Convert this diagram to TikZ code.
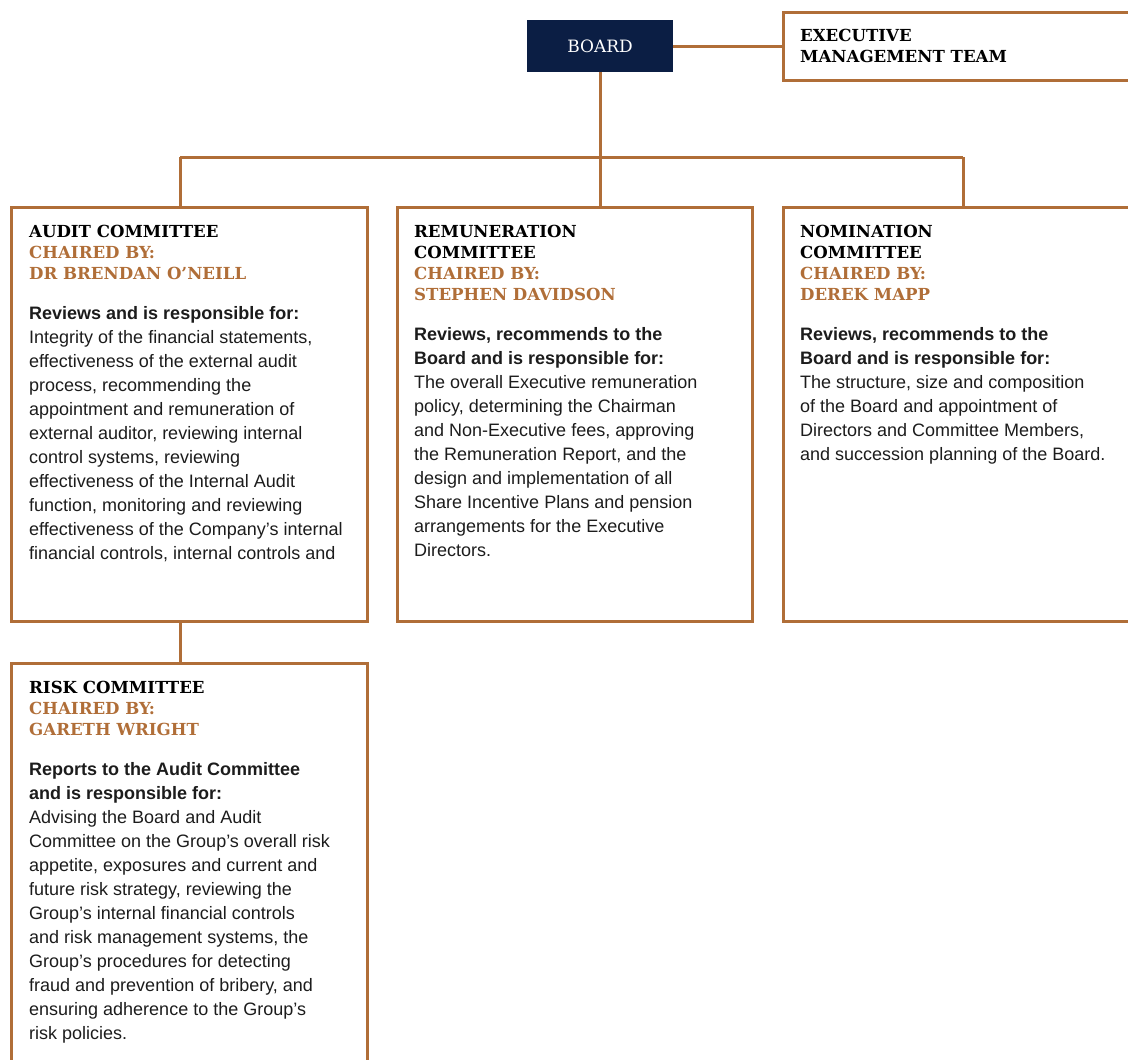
\documentclass[tikz,border=0pt]{standalone}
\usepackage{fontspec}
\setmainfont{Liberation Sans}
\newfontfamily\slabfont{DejaVu Serif}
\usetikzlibrary{positioning}
\definecolor{gold}{HTML}{B06E38}
\definecolor{navy}{HTML}{0B1E44}
\definecolor{ink}{HTML}{1C1C1C}
\newcommand{\chair}[1]{\textcolor{gold}{#1}}
\tikzset{
  link/.style={draw=gold, line width=3pt},
  panel/.style={draw=gold, line width=3pt, anchor=north west, inner sep=0pt,
    outer sep=0pt, minimum width=356pt, minimum height=414pt},
  headtxt/.style={anchor=north west, inner sep=0pt, align=left,
    font=\slabfont\bfseries\fontsize{16.6}{21}\selectfont},
  bodytxt/.style={anchor=north west, inner sep=0pt, align=left, text=ink,
    font=\fontsize{18}{24}\selectfont},
}

\begin{document}
\begin{tikzpicture}[x=1pt,y=-1pt]
  \useasboundingbox (0,0) rectangle (1128,1060);
  \clip (0,0) rectangle (1128,1060);

  % top row
  \node[fill=navy, text=white, minimum width=146pt, minimum height=52pt, inner sep=0pt,
    outer sep=0pt, font=\slabfont\fontsize{17}{20}\selectfont] (board) at (600,46) {BOARD};
  \node[panel, minimum width=400pt, minimum height=68pt] (exec) at (783,12) {};
  \node[headtxt] (exech) at ([shift={(17pt,-17pt)}]exec.north west)
    {EXECUTIVE\\MANAGEMENT TEAM};

  % committees
  \node[panel] (audit) at (11,207) {};
  \node[panel, minimum width=355pt] (remun) at (397,207) {};
  \node[panel, minimum width=400pt] (nomin) at (783,207) {};
  \node[panel, minimum height=460pt] (risk) at (11,663) {};

  \node[headtxt] (audith) at ([shift={(18pt,-17.5pt)}]audit.north west)
    {AUDIT COMMITTEE\\\chair{CHAIRED BY:}\\\chair{DR BRENDAN O’NEILL}};
  \node[bodytxt] (auditb) at ([shift={(18pt,-99pt)}]audit.north west)
    {\textbf{Reviews and is responsible for:}\\
     Integrity of the financial statements,\\
     effectiveness of the external audit\\
     process, recommending the\\
     appointment and remuneration of\\
     external auditor, reviewing internal\\
     control systems, reviewing\\
     effectiveness of the Internal Audit\\
     function, monitoring and reviewing\\
     effectiveness of the Company’s internal\\
     financial controls, internal controls and};

  \node[headtxt] (remunh) at ([shift={(17pt,-17.5pt)}]remun.north west)
    {REMUNERATION\\COMMITTEE\\\chair{CHAIRED BY:}\\\chair{STEPHEN DAVIDSON}};
  \node[bodytxt] (remunb) at ([shift={(17pt,-120pt)}]remun.north west)
    {\textbf{Reviews, recommends to the}\\
     \textbf{Board and is responsible for:}\\
     The overall Executive remuneration\\
     policy, determining the Chairman\\
     and Non-Executive fees, approving\\
     the Remuneration Report, and the\\
     design and implementation of all\\
     Share Incentive Plans and pension\\
     arrangements for the Executive\\
     Directors.};

  \node[headtxt] (nominh) at ([shift={(17pt,-17.5pt)}]nomin.north west)
    {NOMINATION\\COMMITTEE\\\chair{CHAIRED BY:}\\\chair{DEREK MAPP}};
  \node[bodytxt] (nominb) at ([shift={(17pt,-120pt)}]nomin.north west)
    {\textbf{Reviews, recommends to the}\\
     \textbf{Board and is responsible for:}\\
     The structure, size and composition\\
     of the Board and appointment of\\
     Directors and Committee Members,\\
     and succession planning of the Board.};

  \node[headtxt] (riskh) at ([shift={(18pt,-17.5pt)}]risk.north west)
    {RISK COMMITTEE\\\chair{CHAIRED BY:}\\\chair{GARETH WRIGHT}};
  \node[bodytxt] (riskb) at ([shift={(18pt,-99pt)}]risk.north west)
    {\textbf{Reports to the Audit Committee}\\
     \textbf{and is responsible for:}\\
     Advising the Board and Audit\\
     Committee on the Group’s overall risk\\
     appetite, exposures and current and\\
     future risk strategy, reviewing the\\
     Group’s internal financial controls\\
     and risk management systems, the\\
     Group’s procedures for detecting\\
     fraud and prevention of bribery, and\\
     ensuring adherence to the Group’s\\
     risk policies.};

  % connectors
  \coordinate (bus) at (600,157);
  \coordinate (busl) at (180,157);
  \coordinate (busr) at (963,157);
  \draw[link] (board.east) -- (exec.west);
  \draw[link] (board.south) -- (bus);
  \draw[link] (busl) -- (busr);
  \draw[link] (busl) -- (busl |- audit.north);
  \draw[link] (bus) -- (bus |- remun.north);
  \draw[link] (busr) -- (busr |- nomin.north);
  \draw[link] (busl |- audit.south) -- (busl |- risk.north);
\end{tikzpicture}
\end{document}
